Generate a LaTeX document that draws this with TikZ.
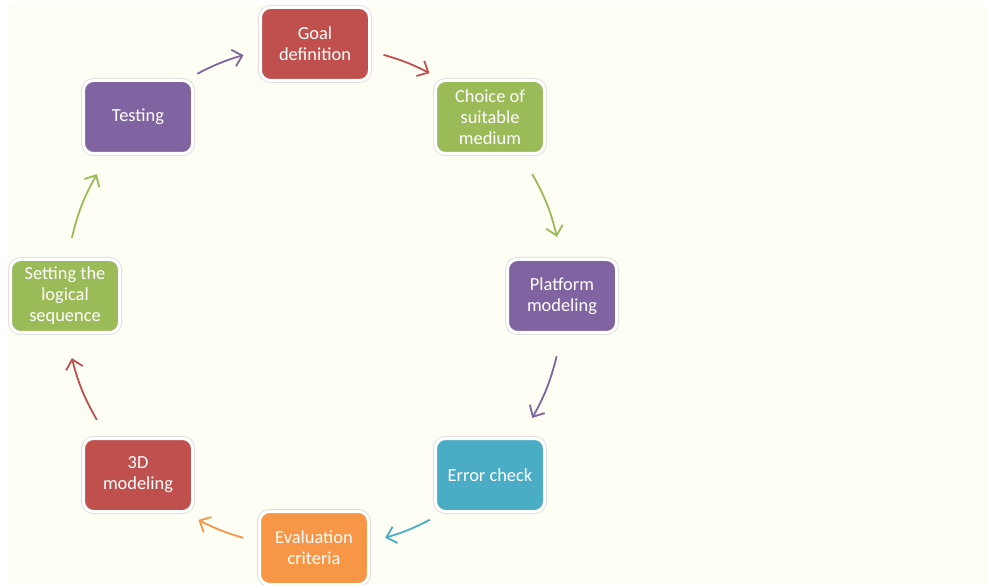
\documentclass[tikz,border=0pt]{standalone}
\usepackage{fontspec}
\setmainfont{Carlito}
\usetikzlibrary{arrows.meta}
\definecolor{bgcream}{RGB}{254,254,245}
\definecolor{cred}{RGB}{192,80,77}
\definecolor{cgreen}{RGB}{155,187,89}
\definecolor{cpurple}{RGB}{128,100,162}
\definecolor{cblue}{RGB}{75,172,198}
\definecolor{corange}{RGB}{247,150,70}
\tikzset{
  stepbox/.style={rectangle, rounded corners=10pt, minimum width=109pt, minimum height=73pt,
    draw=white, line width=3pt, preaction={draw=black!12, line width=5pt},
    text=white, align=center, inner sep=2pt,
    font=\fontsize{18.4pt}{21pt}\selectfont},
  arr/.style={line width=1.8pt, -{Straight Barb[length=9pt,width=17pt]}},
}
\begin{document}
\begin{tikzpicture}[x=1pt,y=1pt]
\useasboundingbox (0,0) rectangle (987,584);
\fill[bgcream] (7,1) rectangle (987,579);
\coordinate (C) at (314,288);
\node[stepbox, fill=cred]    (goal)     at (315,540) {Goal\\definition};
\node[stepbox, fill=cgreen]  (choice)   at (490,467) {Choice of\\suitable\\medium};
\node[stepbox, fill=cpurple] (platform) at (562,288) {Platform\\modeling};
\node[stepbox, fill=cblue]   (error)    at (490,109) {Error check};
\node[stepbox, fill=corange] (eval)     at (314,36)  {Evaluation\\criteria};
\node[stepbox, fill=cred]    (threed)   at (138,109) {3D\\modeling};
\node[stepbox, fill=cgreen]  (setting)  at (65,288)  {Setting the\\logical\\sequence};
\node[stepbox, fill=cpurple] (testing)  at (138,467) {Testing};
% arrow end points on the ring
\coordinate (a1s) at ([shift={(117.7:251pt)}]C);
\coordinate (a1e) at ([shift={(106.3:251pt)}]C);
\coordinate (a2s) at ([shift={(73.9:251pt)}]C);
\coordinate (a2e) at ([shift={(62.6:251pt)}]C);
\coordinate (a3s) at ([shift={(29.2:250pt)}]C);
\coordinate (a3e) at ([shift={(13.7:250pt)}]C);
\coordinate (a4s) at ([shift={(-13.9:250pt)}]C);
\coordinate (a4e) at ([shift={(-29.2:250pt)}]C);
\coordinate (a5s) at ([shift={(-62.6:252pt)}]C);
\coordinate (a5e) at ([shift={(-73.6:252pt)}]C);
\coordinate (a6s) at ([shift={(-106.3:252pt)}]C);
\coordinate (a6e) at ([shift={(-117.3:252pt)}]C);
\coordinate (a7s) at ([shift={(-150.3:250pt)}]C);
\coordinate (a7e) at ([shift={(-165.6:250pt)}]C);
\coordinate (a8s) at ([shift={(166.5:249pt)}]C);
\coordinate (a8e) at ([shift={(150.7:249pt)}]C);
\draw[arr, cpurple] (a1s) to[bend left=5.7] (a1e);
\draw[arr, cred]    (a2s) to[bend left=5.6] (a2e);
\draw[arr, cgreen]  (a3s) to[bend left=7.8] (a3e);
\draw[arr, cpurple] (a4s) to[bend left=7.6] (a4e);
\draw[arr, cblue]   (a5s) to[bend left=5.5] (a5e);
\draw[arr, corange] (a6s) to[bend left=5.5] (a6e);
\draw[arr, cred]    (a7s) to[bend left=7.6] (a7e);
\draw[arr, cgreen]  (a8s) to[bend left=7.9] (a8e);
\end{tikzpicture}
\end{document}
